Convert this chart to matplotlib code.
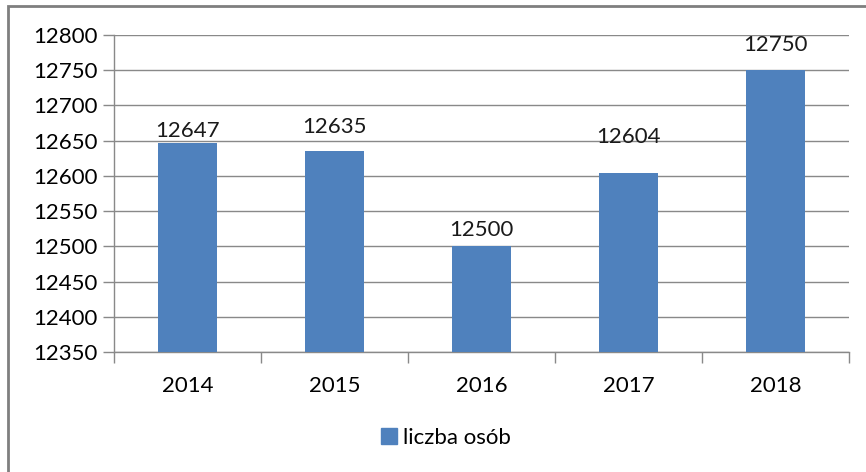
import numpy as np
import matplotlib.pyplot as plt
from matplotlib.patches import Rectangle

years = ["2014", "2015", "2016", "2017", "2018"]
persons = [12647, 12635, 12500, 12604, 12750]
series_name = "liczba osób"

# label centre offsets above bar tops, in points (labels were placed by hand)
label_offsets = [8.5, 17.5, 11.5, 26, 18.5]

plt.rcParams['font.family'] = ['Lato', 'DejaVu Sans']

fig = plt.figure(figsize=(8.66, 4.72), dpi=100)
W, H = 866, 472
ax = fig.add_axes([114 / W, 1 - 352 / H, (849 - 114) / W, (352 - 35) / H])

x = np.arange(len(years))
bar_color = "#4F81BD"
ax.bar(x, persons, width=0.4, color=bar_color, zorder=3)

ax.set_ylim(12350, 12800)
ax.set_xlim(-0.5, len(years) - 0.5)
ax.set_yticks(np.arange(12350, 12801, 50))
ax.yaxis.grid(True, color="#898989", linewidth=1.0, zorder=0)

# category labels in the middle, tick marks at boundaries
ax.set_xticks(x)
ax.set_xticklabels(years)
ax.set_xticks(np.arange(-0.5, len(years)), minor=True)
ax.tick_params(axis="x", which="major", length=0, pad=17, labelsize=16)
ax.tick_params(axis="x", which="minor", length=8, color="#898989", width=1.0)
ax.tick_params(axis="y", length=8, color="#898989", width=1.0, labelsize=16, pad=4)

for side in ["top", "right"]:
    ax.spines[side].set_visible(False)
for side in ["left", "bottom"]:
    ax.spines[side].set_color("#898989")
    ax.spines[side].set_linewidth(1.0)

for xi, v, off in zip(x, persons, label_offsets):
    ax.annotate(str(v), (xi, v), xytext=(0, off), textcoords="offset points",
                ha="center", va="center", fontsize=16, color="#1a1a1a")

handle = Rectangle((0, 0), 1, 1, color=bar_color)
fig.legend([handle], [series_name], loc="center", bbox_to_anchor=(446 / W, 1 - 438 / H),
           frameon=False, fontsize=16, handlelength=0.7, handleheight=0.7,
           handletextpad=0.3)

# outer chart border
fig.patches.append(Rectangle((8 / W, -0.05), 1.0, 1 - 6 / H + 0.05, transform=fig.transFigure,
                             fill=False, edgecolor="#7f7f7f", linewidth=2.0))

fig.savefig("out.png", dpi=100)
